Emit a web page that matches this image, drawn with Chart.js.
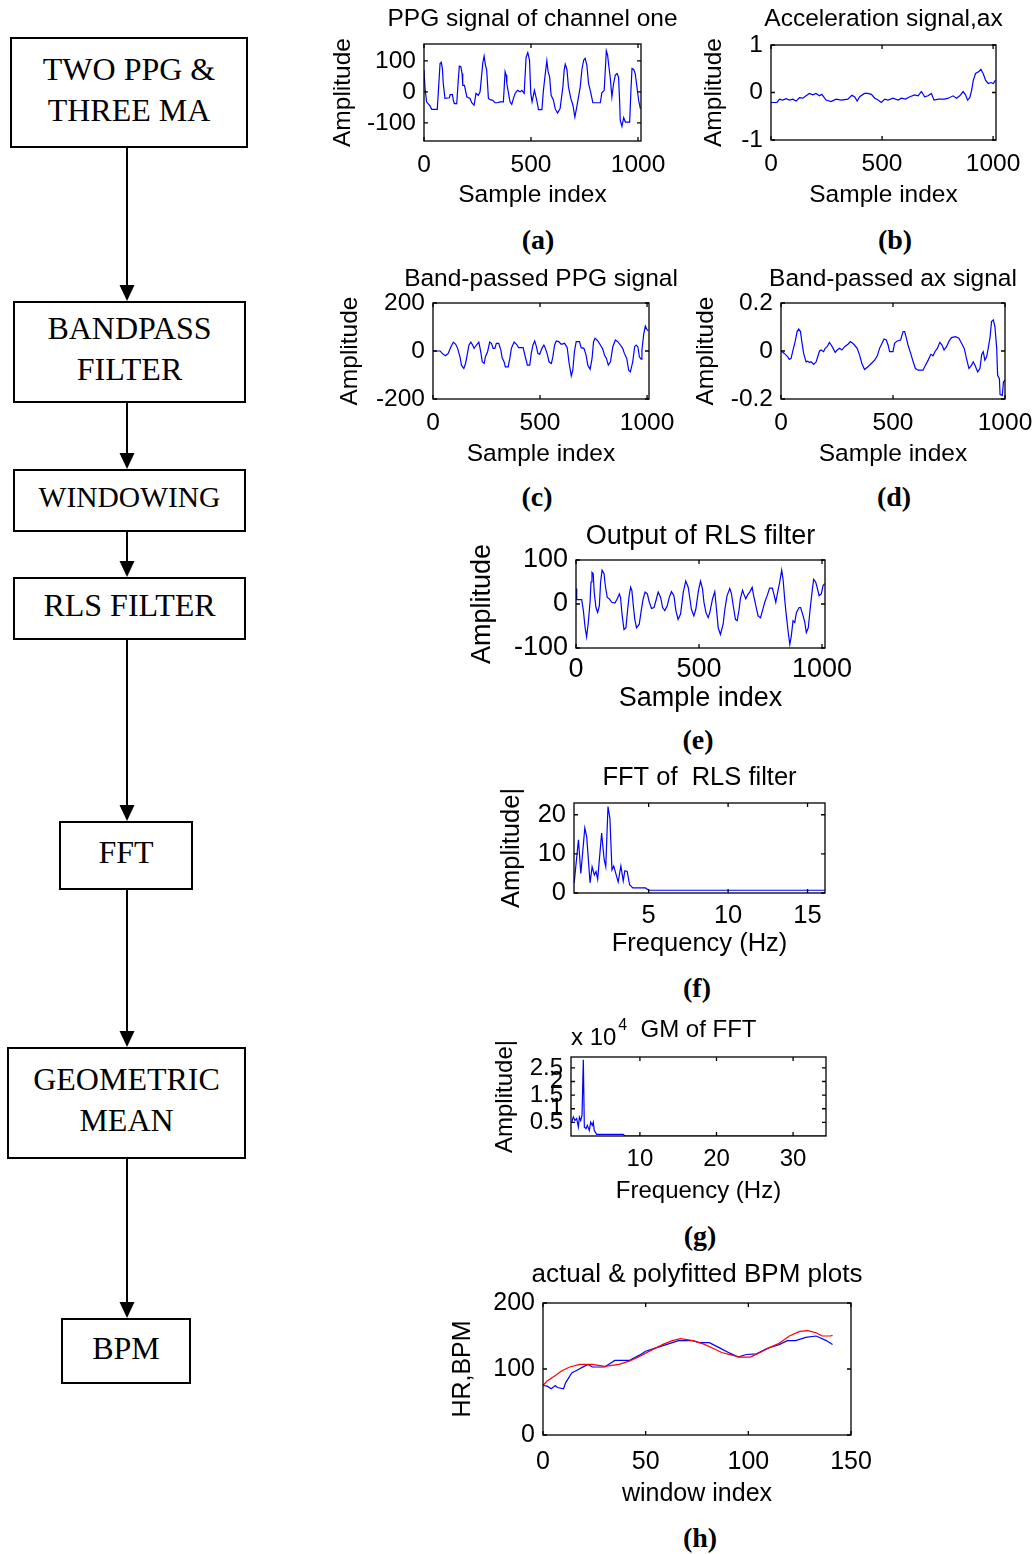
<!DOCTYPE html>
<html>
<head>
<meta charset="utf-8">
<title>PPG heart-rate pipeline</title>
<script src="https://cdn.jsdelivr.net/npm/chart.js@4.4.1/dist/chart.umd.min.js"></script>
<style>
    html, body { margin: 0; padding: 0; background: #fff; }
    body { position: relative; width: 1034px; height: 1554px; overflow: hidden; }
    .box {
        position: absolute; box-sizing: border-box; border: 2px solid #000;
        display: flex; align-items: center; justify-content: center; text-align: center;
        font-family: "Liberation Serif", "Times New Roman", serif; font-size: 32px;
        line-height: 41px; color: #000; padding-bottom: 6px;
    }
    .cap {
        position: absolute; transform: translate(-50%, -50%);
        font-family: "Liberation Serif", "Times New Roman", serif; font-weight: bold; font-size: 28px;
    }
    canvas { position: absolute; }
    svg { position: absolute; left: 0; top: 0; }
</style>
</head>
<body>

<svg width="260" height="1554">
    <g stroke="#000" stroke-width="2">
        <line x1="127" y1="148" x2="127" y2="287"/>
        <line x1="127" y1="403" x2="127" y2="455"/>
        <line x1="127" y1="532" x2="127" y2="563"/>
        <line x1="127" y1="640" x2="127" y2="807"/>
        <line x1="127" y1="890" x2="127" y2="1033"/>
        <line x1="127" y1="1159" x2="127" y2="1304"/>
    </g>
    <g fill="#000">
        <polygon points="119.5,285 134.5,285 127,301"/>
        <polygon points="119.5,453 134.5,453 127,469"/>
        <polygon points="119.5,561 134.5,561 127,577"/>
        <polygon points="119.5,805 134.5,805 127,821"/>
        <polygon points="119.5,1031 134.5,1031 127,1047"/>
        <polygon points="119.5,1302 134.5,1302 127,1318"/>
    </g>
</svg>

<div class="box" style="left:10px;top:37px;width:238px;height:111px">TWO PPG &amp;<br>THREE MA</div>
<div class="box" style="left:13px;top:301px;width:233px;height:102px">BANDPASS<br>FILTER</div>
<div class="box" style="left:13px;top:469px;width:233px;height:63px;font-size:29.5px">WINDOWING</div>
<div class="box" style="left:13px;top:577px;width:233px;height:63px">RLS FILTER</div>
<div class="box" style="left:59px;top:821px;width:134px;height:69px">FFT</div>
<div class="box" style="left:7px;top:1047px;width:239px;height:112px">GEOMETRIC<br>MEAN</div>
<div class="box" style="left:61px;top:1318px;width:130px;height:66px">BPM</div>

<div class="cap" style="left:538px;top:240px">(a)</div>
<div class="cap" style="left:895px;top:240px">(b)</div>
<div class="cap" style="left:537px;top:497px">(c)</div>
<div class="cap" style="left:894px;top:497px">(d)</div>
<div class="cap" style="left:698px;top:740px">(e)</div>
<div class="cap" style="left:697px;top:988px">(f)</div>
<div class="cap" style="left:700px;top:1236px">(g)</div>
<div class="cap" style="left:700px;top:1538px">(h)</div>

<script>
// (a) raw PPG, channel one: [sample, amplitude]
const ppgPoints = [[0,70],[5,11],[12,-32],[28,-45],[36,-56],[62,-56],[67,0],[75,91],[81,95],[86,75],[90,27],[98,-21],[119,-19],[122,-9],[133,-9],[137,-27],[142,-38],[153,-38],[158,16],[165,83],[172,81],[178,59],[181,21],[189,21],[200,-16],[215,-21],[223,-35],[234,-43],[243,-5],[254,-11],[262,0],[275,94],[281,115],[287,86],[293,70],[301,-21],[309,-25],[321,-27],[332,-35],[343,-35],[356,-32],[371,-32],[379,65],[384,54],[387,27],[395,-5],[402,-32],[410,-40],[418,-21],[426,-5],[437,5],[449,0],[457,5],[468,-5],[477,111],[485,126],[493,102],[499,-5],[505,-32],[516,5],[527,-27],[535,-57],[551,-57],[558,5],[566,54],[574,100],[580,65],[587,48],[594,-11],[605,-27],[613,-54],[624,-68],[636,-54],[649,16],[655,70],[660,89],[668,72],[675,16],[686,-21],[696,-43],[705,-81],[714,-48],[730,16],[738,72],[746,102],[753,108],[761,86],[769,27],[780,-5],[789,-35],[824,-35],[831,-3],[842,5],[852,132],[858,118],[864,81],[870,48],[878,-16],[886,27],[894,54],[902,59],[909,48],[914,-27],[917,-91],[925,-111],[933,-83],[941,-97],[961,-97],[967,5],[972,75],[980,72],[987,59],[995,16],[1003,-27],[1011,-54]];

// (b) acceleration, ax
const accPoints = [[0,-0.21],[27,-0.21],[38,-0.14],[53,-0.16],[68,-0.13],[83,-0.16],[98,-0.14],[113,-0.18],[128,-0.11],[143,-0.12],[158,-0.07],[173,-0.02],[188,-0.05],[203,-0.02],[218,-0.07],[229,-0.04],[248,-0.16],[271,-0.19],[293,-0.14],[316,-0.16],[346,-0.14],[364,-0.06],[376,-0.09],[388,-0.18],[399,-0.09],[421,-0.02],[436,-0.02],[452,-0.04],[467,-0.12],[482,-0.16],[497,-0.21],[512,-0.14],[527,-0.16],[549,-0.12],[572,-0.16],[587,-0.12],[605,-0.14],[625,-0.09],[647,-0.05],[662,-0.07],[677,0.02],[692,-0.09],[707,-0.07],[722,-0.02],[734,-0.16],[753,-0.14],[783,-0.14],[798,-0.12],[820,-0.07],[835,-0.12],[850,-0.07],[865,0.02],[876,-0.05],[885,-0.16],[895,-0.11],[903,0.04],[911,0.26],[921,0.4],[936,0.44],[945,0.49],[956,0.39],[966,0.26],[978,0.19],[990,0.21],[1001,0.19],[1011,0.26]];

// (c) band-passed PPG
const bpPpgPoints = [[0,0],[33,0],[48,-14],[59,-20],[71,-10],[84,18],[95,37],[106,28],[115,11],[126,-24],[133,-59],[144,-73],[152,-52],[161,-10],[168,25],[177,37],[185,25],[192,11],[203,25],[214,37],[223,-3],[230,-45],[239,-52],[245,-24],[255,-3],[265,37],[273,32],[281,11],[289,11],[296,32],[307,32],[317,4],[323,-28],[332,-45],[338,-66],[351,-66],[359,-31],[366,11],[379,37],[390,28],[400,14],[421,14],[431,-24],[441,-59],[452,-59],[459,-10],[467,25],[475,42],[483,18],[490,-10],[498,-14],[509,11],[518,25],[525,11],[534,-14],[542,-45],[553,-52],[560,-24],[568,25],[576,42],[587,39],[599,28],[615,32],[627,14],[636,-52],[646,-104],[653,-80],[661,0],[669,39],[684,39],[692,14],[705,11],[715,-17],[723,-59],[734,-76],[743,-31],[750,39],[757,53],[770,42],[782,25],[793,8],[801,-17],[810,-31],[819,-59],[829,-45],[840,18],[852,46],[863,39],[875,25],[886,11],[894,-10],[905,-31],[914,-80],[922,-87],[933,-45],[942,18],[949,25],[957,18],[964,-24],[972,-34],[976,4],[984,68],[992,104],[999,90],[1006,84]];

// (d) band-passed ax
const bpAxPoints = [[0,0],[15,-0.01],[30,-0.024],[37,-0.035],[45,-0.031],[52,-0.003],[63,0.039],[72,0.081],[79,0.091],[87,0.081],[93,0.039],[101,-0.01],[112,-0.045],[119,-0.042],[127,-0.048],[134,-0.045],[146,-0.056],[157,-0.045],[164,-0.024],[172,0],[179,0.004],[190,-0.003],[197,0.011],[206,0.018],[216,0.036],[224,0.025],[231,0.014],[242,-0.006],[251,0.004],[261,0.011],[272,0.004],[284,0.018],[299,0.028],[310,0.039],[325,0.028],[340,0.011],[351,-0.017],[361,-0.052],[373,-0.077],[388,-0.066],[403,-0.052],[418,-0.038],[430,-0.02],[440,0.011],[451,0.032],[460,0.05],[470,0.046],[478,0.025],[485,-0.003],[500,-0.003],[507,0.032],[519,0.042],[534,0.046],[545,0.081],[552,0.081],[560,0.053],[567,0.025],[579,-0.01],[590,-0.045],[600,-0.073],[612,-0.08],[634,-0.08],[645,-0.059],[657,-0.038],[669,-0.014],[679,-0.02],[687,-0.003],[698,0.011],[709,0.036],[719,0.025],[728,0.004],[739,0.018],[749,0.039],[761,0.056],[779,0.06],[794,0.053],[806,0.032],[818,0.011],[828,-0.031],[839,-0.073],[851,-0.059],[858,-0.045],[866,-0.059],[878,-0.087],[888,-0.073],[896,-0.014],[903,-0.003],[910,-0.038],[918,-0.024],[925,0.011],[933,0.056],[940,0.123],[948,0.13],[955,0.102],[963,0.011],[967,-0.101],[975,-0.115],[978,-0.182],[988,-0.185],[993,-0.129],[1000,-0.122]];

// (e) RLS filter output
const rlsPoints = [[0,35],[3,10],[23,10],[30,-15],[37,-54],[43,-75],[50,-42],[57,4],[61,50],[65,72],[70,69],[74,27],[81,-8],[88,-19],[95,-4],[100,50],[106,77],[114,69],[119,42],[127,15],[135,12],[145,4],[158,2],[168,12],[176,23],[181,15],[187,-23],[195,-58],[203,-54],[210,-12],[216,19],[222,38],[227,31],[233,-4],[239,-35],[246,-54],[257,-46],[264,-19],[273,12],[281,27],[290,23],[298,4],[307,-10],[317,-8],[325,8],[334,27],[344,15],[352,-8],[361,-15],[371,-4],[379,15],[388,28],[398,19],[406,-15],[415,-35],[425,-23],[436,27],[446,52],[456,38],[463,12],[469,-12],[479,-27],[487,-12],[497,28],[506,52],[514,35],[520,4],[528,-19],[537,-31],[544,-19],[555,12],[564,28],[571,-12],[578,-54],[587,-69],[598,-46],[605,-12],[614,19],[625,35],[632,23],[639,-4],[648,-35],[655,-38],[663,-12],[668,12],[677,31],[682,23],[690,12],[700,23],[706,27],[716,38],[722,19],[731,-4],[740,-27],[750,-31],[758,-15],[767,4],[777,19],[787,36],[798,36],[804,23],[812,4],[817,19],[828,50],[836,77],[842,54],[848,12],[855,-27],[862,-62],[869,-92],[875,-73],[882,-38],[889,-42],[896,-19],[907,-8],[913,-8],[923,-27],[930,-42],[936,-65],[944,-54],[953,-4],[961,35],[966,56],[974,50],[980,38],[988,19],[997,23],[1004,42],[1011,46]];

// (f) FFT of RLS output: [Hz, |amplitude|]
const fftPoints = [[0.31,2.5],[0.58,13.6],[0.73,5],[0.98,16.6],[1.1,14.4],[1.31,2.6],[1.44,6.7],[1.58,4.6],[1.69,5.5],[1.79,3.5],[2.04,15.3],[2.2,8.5],[2.3,6.7],[2.44,22.1],[2.56,19.1],[2.69,5.9],[2.8,6.9],[2.93,5],[3.08,2.8],[3.25,6.9],[3.4,3.1],[3.5,5.7],[3.65,5.5],[3.8,2.1],[4.0,1.3],[4.8,1.3],[5.0,0.7],[16.1,0.7]];

// (g) geometric mean of FFTs, in units of 10^4
const gmPoints = [[1.1,0.51],[1.3,0.7],[1.52,0.57],[1.74,0.64],[1.96,0.33],[2.09,0.7],[2.27,0.57],[2.44,0.76],[2.61,2.8],[2.74,0.33],[2.96,0.27],[3.13,0.39],[3.39,0.2],[3.57,0.51],[3.78,0.39],[3.91,0.51],[4.04,0.2],[4.35,0.06],[7.82,0.06],[8.04,0],[34.3,0]];

// (h) BPM per window
const bpmActual = [[0,75],[2,74],[4,70],[6,75],[7,72],[10,70],[11,79],[14,94],[17,99],[20,104],[22,107],[24,103],[30,103],[35,113],[42,113],[47,121],[50,127],[55,132],[60,137],[63,140],[66,143],[73,143],[76,140],[81,140],[86,132],[91,124],[95,118],[99,122],[104,123],[109,131],[115,137],[119,143],[123,143],[128,148],[133,150],[138,143],[141,137]];
const bpmFitted = [[0,75],[2,82],[6,90],[9,97],[13,103],[18,107],[24,107],[30,104],[37,107],[42,112],[47,119],[53,129],[59,138],[63,143],[67,146],[73,143],[78,138],[83,131],[87,125],[92,121],[96,118],[101,118],[105,124],[110,132],[115,139],[120,150],[125,157],[129,158],[133,155],[136,150],[140,150],[141,151]];

// tick values
const sampleTicks = [0, 500, 1000];
const ppgTicks = [-100, 0, 100];
const accTicks = [-1, 0, 1];
const bpPpgTicks = [-200, 0, 200];
const bpAxTicks = [-0.2, 0, 0.2];
const rlsTicks = [-100, 0, 100];
const fftHzTicks = [5, 10, 15];
const fftAmpTicks = [0, 10, 20];
const gmHzTicks = [10, 20, 30];
const gmAmpTicks = [0.5, 1, 1.5, 2, 2.5];
const windowTicks = [0, 50, 100, 150];
const bpmTicks = [0, 100, 200];

const FONT = '"Liberation Sans", Arial, sans-serif';
const BLUE = '#0000ff';
const RED = '#ff0000';

// draws the closed axes box, inward tick marks and the plot title
const matlabBox = {
    id: 'matlabBox',
    afterDraw(chart, args, opts) {
        const { ctx, chartArea: a, scales } = chart;
        ctx.save();
        ctx.strokeStyle = '#000';
        ctx.lineWidth = 1.3;
        ctx.strokeRect(a.left, a.top, a.right - a.left, a.bottom - a.top);
        ctx.beginPath();
        scales.x.ticks.forEach(t => {
            const px = scales.x.getPixelForValue(t.value);
            ctx.moveTo(px, a.bottom); ctx.lineTo(px, a.bottom - 4);
            ctx.moveTo(px, a.top); ctx.lineTo(px, a.top + 4);
        });
        scales.y.ticks.forEach(t => {
            const py = scales.y.getPixelForValue(t.value);
            ctx.moveTo(a.left, py); ctx.lineTo(a.left + 4, py);
            ctx.moveTo(a.right, py); ctx.lineTo(a.right - 4, py);
        });
        ctx.stroke();

        ctx.fillStyle = '#000';
        ctx.textBaseline = 'middle';
        ctx.textAlign = 'center';
        ctx.font = `${opts.size}px ${FONT}`;
        ctx.fillText(opts.text, (a.left + a.right) / 2, opts.y);
        if (opts.exponent) {
            ctx.textAlign = 'left';
            ctx.fillText('x 10', a.left, opts.y + 8);
            const w = ctx.measureText('x 10').width;
            ctx.font = `16px ${FONT}`;
            ctx.fillText(opts.exponent, a.left + w + 2, opts.y - 4);
        }
        ctx.restore();
    }
};

function drawPlot(p) {
    const cLeft = Math.round(p.ylabX - p.fs / 2);
    const cTop = p.titleY - 20;
    const cRight = p.R + 40;
    const cBottom = Math.round(p.xlabY + p.fs / 2);

    const canvas = document.createElement('canvas');
    canvas.width = cRight - cLeft;
    canvas.height = cBottom - cTop;
    canvas.style.left = cLeft + 'px';
    canvas.style.top = cTop + 'px';
    document.body.appendChild(canvas);

    const tickFont = { family: FONT, size: p.fs };
    const titleFont = { family: FONT, size: p.fs, lineHeight: 1 };

    new Chart(canvas.getContext('2d'), {
        type: 'line',
        data: {
            datasets: p.series.map(s => ({
                data: s.pts.map(d => ({ x: d[0], y: d[1] })),
                borderColor: s.color,
                borderWidth: 1.2,
                pointRadius: 0,
                tension: 0,
                fill: false
            }))
        },
        options: {
            responsive: false,
            animation: false,
            events: [],
            layout: { padding: { left: 0, top: p.T - cTop, right: cRight - p.R, bottom: 0 } },
            plugins: {
                legend: { display: false },
                tooltip: { enabled: false },
                matlabBox: { text: p.title, y: 22, size: p.titleFs || p.fs, exponent: p.exponent }
            },
            scales: {
                x: {
                    type: 'linear',
                    min: p.xMin,
                    max: p.xMax,
                    grid: { display: false, drawTicks: false },
                    border: { display: false },
                    afterBuildTicks: s => { s.ticks = p.xTicks.map(v => ({ value: v })); },
                    afterFit: s => { s.height = cBottom - p.B; },
                    ticks: { autoSkip: false, maxRotation: 0, padding: p.xPad, color: '#000', font: tickFont, callback: v => String(v) },
                    title: { display: true, text: p.xlab, color: '#000', font: titleFont, padding: 0 }
                },
                y: {
                    type: 'linear',
                    min: p.yMin,
                    max: p.yMax,
                    grid: { display: false, drawTicks: false },
                    border: { display: false },
                    afterBuildTicks: s => { s.ticks = p.yTicks.map(v => ({ value: v })); },
                    afterFit: s => { s.width = p.L - cLeft; },
                    ticks: { autoSkip: false, padding: 8, color: '#000', font: tickFont, callback: v => String(v) },
                    title: { display: true, text: p.ylab, color: '#000', font: titleFont, padding: 0 }
                }
            }
        },
        plugins: [matlabBox]
    });
}

const plots = [
    { L: 424, T: 44, R: 641, B: 141, titleY: 17, ylabX: 343, xlabY: 195, fs: 24.5, xPad: 10,
      title: 'PPG signal of channel one', xlab: 'Sample index', ylab: 'Amplitude',
      xMin: 0, xMax: 1014, yMin: -158, yMax: 154, xTicks: sampleTicks, yTicks: ppgTicks,
      series: [{ pts: ppgPoints, color: BLUE }] },
    { L: 771, T: 45, R: 996, B: 140, titleY: 17, ylabX: 714, xlabY: 195, fs: 24.5, xPad: 10,
      title: 'Acceleration signal,ax', xlab: 'Sample index', ylab: 'Amplitude',
      xMin: 0, xMax: 1013, yMin: -1, yMax: 1, xTicks: sampleTicks, yTicks: accTicks,
      series: [{ pts: accPoints, color: BLUE }] },
    { L: 433, T: 303, R: 649, B: 399, titleY: 277, ylabX: 350, xlabY: 454, fs: 24.5, xPad: 10,
      title: 'Band-passed PPG signal', xlab: 'Sample index', ylab: 'Amplitude',
      xMin: 0, xMax: 1009, yMin: -200, yMax: 200, xTicks: sampleTicks, yTicks: bpPpgTicks,
      series: [{ pts: bpPpgPoints, color: BLUE }] },
    { L: 781, T: 303, R: 1005, B: 399, titleY: 277, ylabX: 706, xlabY: 454, fs: 24.5, xPad: 10,
      title: 'Band-passed ax signal', xlab: 'Sample index', ylab: 'Amplitude',
      xMin: 0, xMax: 1000, yMin: -0.2, yMax: 0.2, xTicks: sampleTicks, yTicks: bpAxTicks,
      series: [{ pts: bpAxPoints, color: BLUE }] },
    { L: 576, T: 560, R: 825, B: 648, titleY: 535, ylabX: 482, xlabY: 698, fs: 27, xPad: 5,
      title: 'Output of RLS filter', xlab: 'Sample index', ylab: 'Amplitude',
      xMin: 0, xMax: 1012, yMin: -100, yMax: 100, xTicks: sampleTicks, yTicks: rlsTicks,
      series: [{ pts: rlsPoints, color: BLUE }] },
    { L: 574, T: 803, R: 825, B: 893, titleY: 776, ylabX: 512, xlabY: 944, fs: 25.5, xPad: 8,
      title: 'FFT of  RLS filter', xlab: 'Frequency (Hz)', ylab: 'Amplitude|',
      xMin: 0.3, xMax: 16.1, yMin: 0, yMax: 23, xTicks: fftHzTicks, yTicks: fftAmpTicks,
      series: [{ pts: fftPoints, color: BLUE }] },
    { L: 571, T: 1057, R: 826, B: 1136, titleY: 1028, ylabX: 505, xlabY: 1191, fs: 24, xPad: 9,
      title: 'GM of FFT', exponent: '4', xlab: 'Frequency (Hz)', ylab: 'Amplitude|',
      xMin: 1, xMax: 34.3, yMin: 0, yMax: 2.9, xTicks: gmHzTicks, yTicks: gmAmpTicks,
      series: [{ pts: gmPoints, color: BLUE }] },
    { L: 543, T: 1303, R: 851, B: 1435, titleY: 1273, ylabX: 463, xlabY: 1494, fs: 25, titleFs: 26, xPad: 12,
      title: 'actual & polyfitted BPM plots', xlab: 'window index', ylab: 'HR,BPM',
      xMin: 0, xMax: 150, yMin: 0, yMax: 200, xTicks: windowTicks, yTicks: bpmTicks,
      series: [{ pts: bpmFitted, color: RED }, { pts: bpmActual, color: BLUE }] }
];

plots.forEach(drawPlot);
</script>
</body>
</html>
